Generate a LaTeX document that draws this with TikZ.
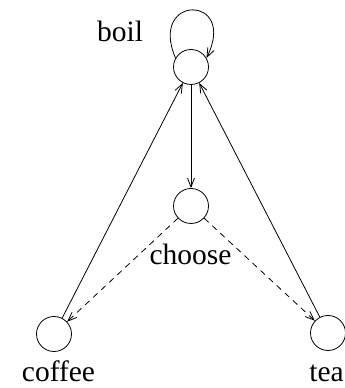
\documentclass[tikz,border=0pt]{standalone}
\usepackage{fontspec}
\setmainfont{Liberation Serif}
\usetikzlibrary{arrows.meta}
\begin{document}
\begin{tikzpicture}[x=1pt,y=1pt,
  state/.style={circle,draw,line width=0.8pt,minimum size=35pt,inner sep=0pt},
  lab/.style={anchor=base,inner sep=0pt,font=\fontsize{29.5}{34}\selectfont},
  every path/.style={line width=0.8pt},
  >={Straight Barb[length=9pt,width=7pt]}]
\useasboundingbox (0,0) rectangle (345,388);
\node[state] (boil) at (191,321) {};
\node[state] (choose) at (191,182) {};
\node[state] (coffee) at (54,54) {};
\node[state] (tea) at (328,55) {};
\node[lab] (lboil) at (120,346) {boil};
\node[lab] (lchoose) at (190.5,123) {choose};
\node[lab] (lcoffee) at (58.5,6) {coffee};
\node[lab] (ltea) at (326.5,6) {tea};
\draw[->] (boil.150) .. controls (148,394) and (238,394) .. (boil.30);
\draw[->] (boil) -- (choose);
\draw[->] (coffee) -- (boil);
\draw[->] (tea) -- (boil);
\draw[->,dash pattern=on 6pt off 5pt] (choose) -- (coffee);
\draw[->,dash pattern=on 6pt off 5pt] (choose) -- (tea);
\end{tikzpicture}
\end{document}
